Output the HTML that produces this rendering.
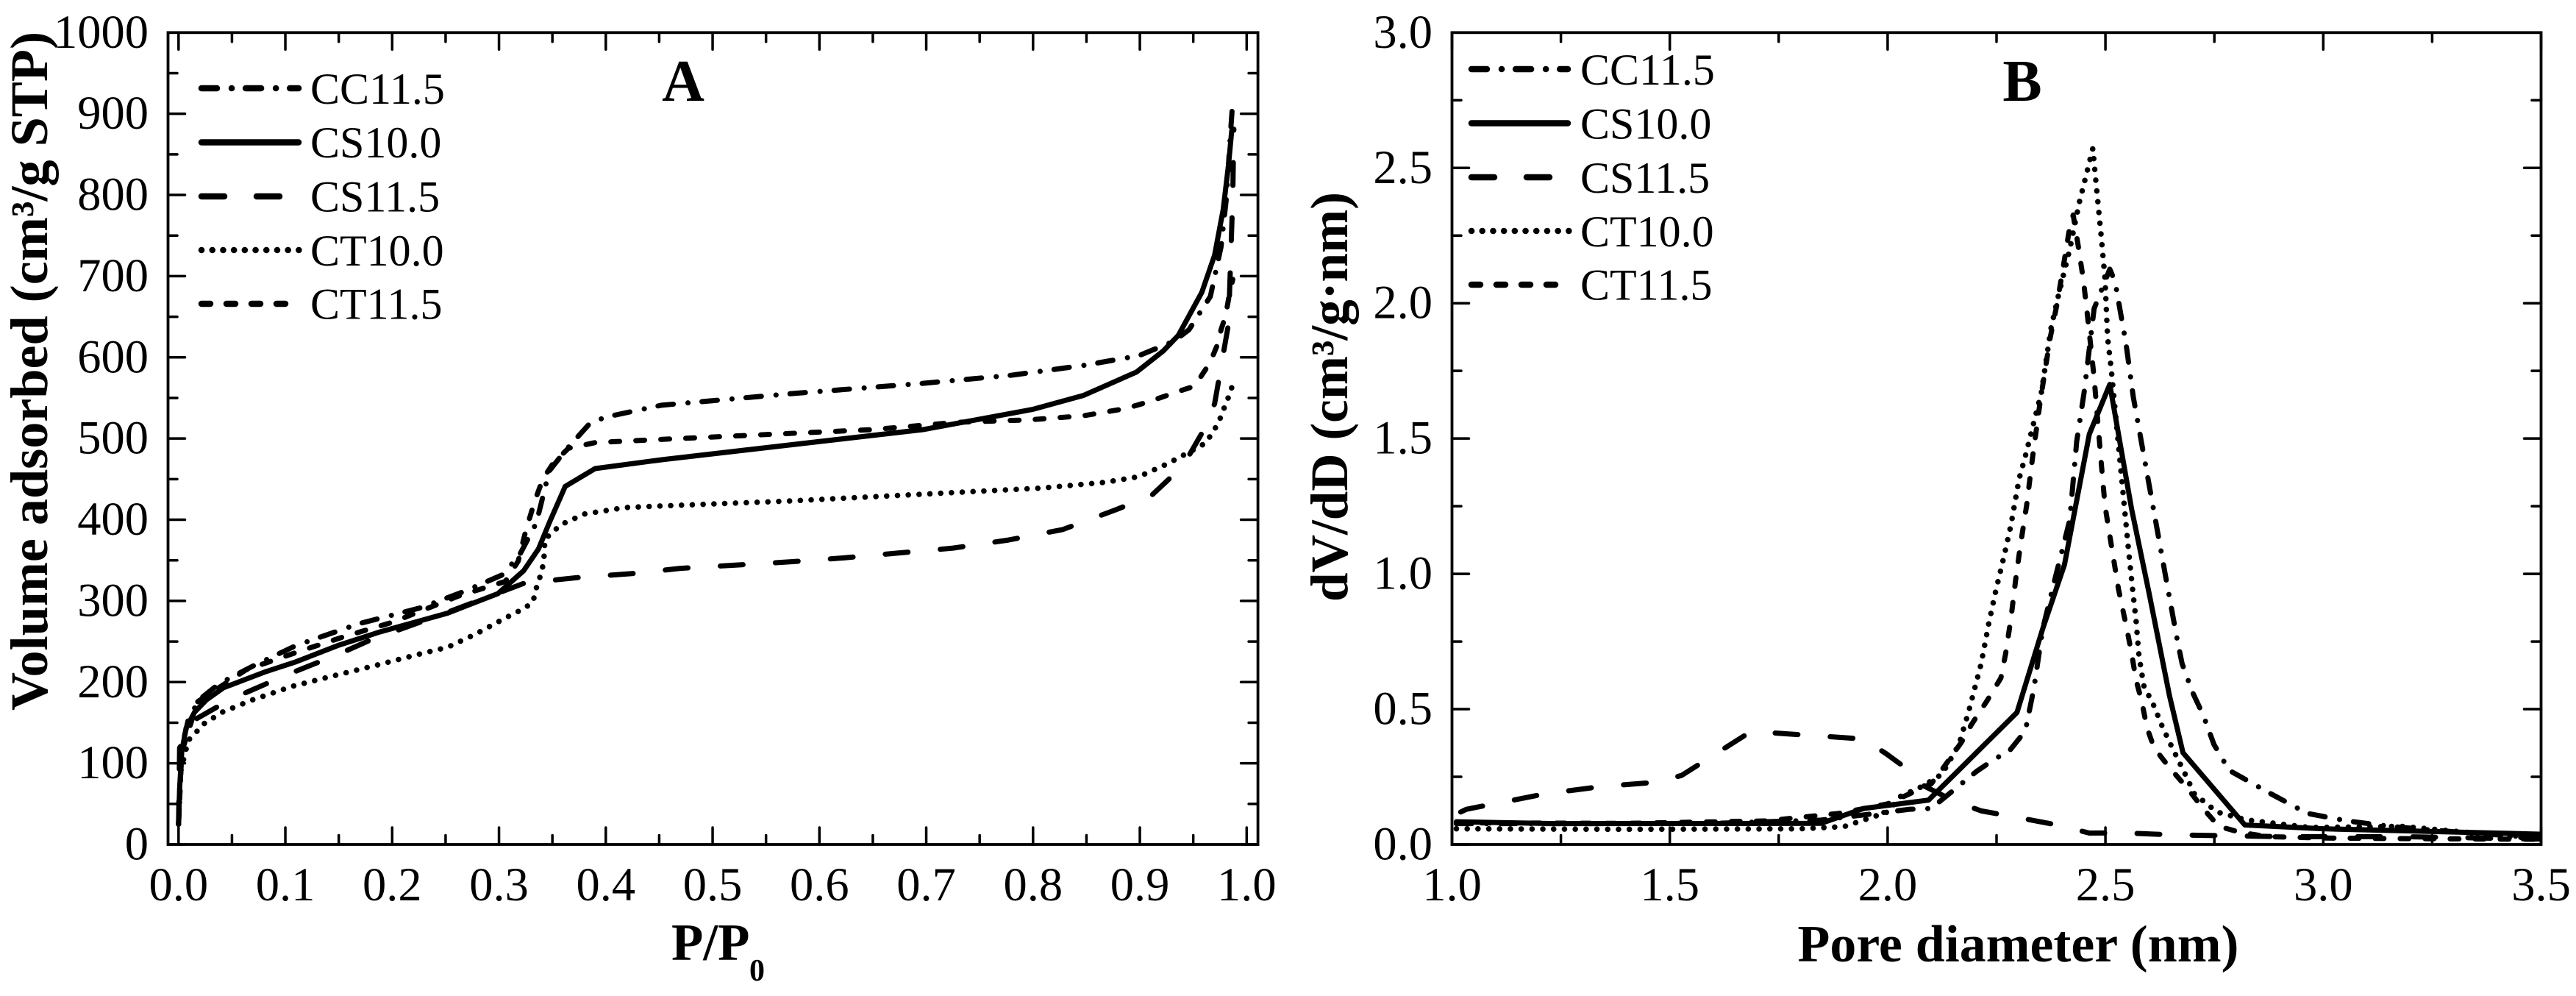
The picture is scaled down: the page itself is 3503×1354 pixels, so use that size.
<!DOCTYPE html>
<html lang="en">
<head>
<meta charset="utf-8">
<title>Nitrogen adsorption isotherms and pore size distributions</title>
<style>
  html, body { margin: 0; padding: 0; background: #fff; }
  body { width: 3503px; height: 1354px; overflow: hidden; }
  svg { display: block; }
  text { font-family: "Liberation Serif", serif; fill: #000; }
  .tick-label { font-size: 64.5px; }
  .legend-label { font-size: 60px; }
  .axis-title { font-size: 72px; font-weight: bold; }
  .panel-letter { font-size: 80px; font-weight: bold; }
  .frame { fill: none; stroke: #000; stroke-width: 3.8; }
  .tick { stroke: #000; stroke-width: 3.5; stroke-linecap: round; }
  .curve, .swatch { fill: none; stroke: #000; stroke-linecap: round; stroke-linejoin: round; }
  .curve { stroke-width: 7; }
  .swatch { stroke-width: 8.5; }
  .s-cc { stroke-dasharray: 21 20 0.1 19; }
  .s-cs10 { stroke-dasharray: none; }
  .s-cs11 { stroke-dasharray: 31 44; }
  .s-ct10 { stroke-dasharray: 0.1 14.6; }
  .s-ct11 { stroke-dasharray: 12 22; }
  .curve.s-ct10 { stroke-width: 7.5; }
</style>
</head>
<body>
<svg id="figure" xmlns="http://www.w3.org/2000/svg" width="3503" height="1354" viewBox="0 0 3503 1354">
  <rect x="0" y="0" width="3503" height="1354" fill="#fff"/>

  <g id="panelA">
    <g id="panelA-ticks"></g>
    <g id="panelA-curves"></g>
    <text class="panel-letter" x="929" y="137" text-anchor="middle">A</text>
    <text class="axis-title" transform="translate(64 966) rotate(-90)" textLength="923" lengthAdjust="spacingAndGlyphs">Volume adsorbed (cm³/g STP)</text>
    <text class="axis-title" x="913" y="1305" style="font-size:71px">P/P</text>
    <text class="axis-title" x="1019" y="1333" style="font-size:42px">0</text>
    <g>
      <line class="swatch s-cc" x1="274" y1="120" x2="406" y2="120"/>
      <text class="legend-label" x="422" y="141">CC11.5</text>
      <line class="swatch s-cs10" x1="274" y1="193.5" x2="406" y2="193.5"/>
      <text class="legend-label" x="422" y="214">CS10.0</text>
      <line class="swatch s-cs11" x1="274" y1="267" x2="406" y2="267"/>
      <text class="legend-label" x="422" y="287.5">CS11.5</text>
      <line class="swatch s-ct10" x1="274" y1="340" x2="408" y2="340"/>
      <text class="legend-label" x="422" y="361">CT10.0</text>
      <line class="swatch s-ct11" x1="274" y1="413" x2="392" y2="413"/>
      <text class="legend-label" x="422" y="433.5">CT11.5</text>
    </g>
  </g>

  <g id="panelB">
    <g id="panelB-ticks"></g>
    <g id="panelB-curves"></g>
    <text class="panel-letter" x="2750" y="137" text-anchor="middle">B</text>
    <text class="axis-title" transform="translate(1832 818) rotate(-90)" textLength="557" lengthAdjust="spacingAndGlyphs">dV/dD (cm³/g·nm)</text>
    <text class="axis-title" x="2444.5" y="1307" textLength="600" lengthAdjust="spacingAndGlyphs" style="font-size:71px">Pore diameter (nm)</text>
    <g>
      <line class="swatch s-cc" x1="2001" y1="94" x2="2132" y2="94"/>
      <text class="legend-label" x="2149" y="115">CC11.5</text>
      <line class="swatch s-cs10" x1="2001" y1="167.5" x2="2132" y2="167.5"/>
      <text class="legend-label" x="2149" y="188.5">CS10.0</text>
      <line class="swatch s-cs11" x1="2001" y1="241" x2="2132" y2="241"/>
      <text class="legend-label" x="2149" y="262">CS11.5</text>
      <line class="swatch s-ct10" x1="2001" y1="314" x2="2134" y2="314"/>
      <text class="legend-label" x="2149" y="335">CT10.0</text>
      <line class="swatch s-ct11" x1="2001" y1="387" x2="2118" y2="387"/>
      <text class="legend-label" x="2149" y="407.5">CT11.5</text>
    </g>
  </g>
</svg>

<script>
// ---------- Panel A tick labels ----------
const isoXTicks = ['0.0','0.1','0.2','0.3','0.4','0.5','0.6','0.7','0.8','0.9','1.0'];
const isoYTicks = ['0','100','200','300','400','500','600','700','800','900','1000'];

// ---------- Panel A isotherms: P/P0 and adsorbed volume ----------
const isoP_CC = [0,0.003,0.009,0.019,0.038,0.07,0.11,0.169,0.228,0.268,0.303,0.319,0.335,0.347,0.362,0.386,0.402,0.452,0.571,0.697,0.78,0.847,0.899,0.932,0.946,0.966,0.976,0.981,0.985,0.987];
const isoV_CC = [25,119,153,178,198,220,245,272,292,312,332,356,396,460,485,520,527,541,555,568,578,590,602,620,634,675,736,796,879,916];

const isoP_CS10 = [0,0.001,0.003,0.007,0.015,0.026,0.042,0.082,0.11,0.149,0.189,0.252,0.299,0.323,0.337,0.347,0.362,0.39,0.453,0.697,0.8,0.847,0.897,0.922,0.936,0.958,0.97,0.978,0.983,0.986];
const isoV_CS10 = [25,69,114,143,163,178,193,213,225,245,262,285,309,337,364,396,441,463,474,511,536,553,582,608,627,680,726,782,837,879];

const isoP_CS11 = [0,0.001,0.017,0.037,0.063,0.084,0.109,0.132,0.156,0.18,0.25,0.3,0.324,0.376,0.428,0.469,0.52,0.571,0.623,0.674,0.725,0.777,0.828,0.877,0.911,0.928,0.946,0.96,0.97,0.974,0.979,0.983,0.985,0.987,0.988];
const isoV_CS11 = [25,119,155,170,187,199,213,225,238,252,285,310,322,329,334,340,344,348,353,359,365,375,388,412,430,451,479,511,543,573,611,641,720,800,881];

const isoP_CT10 = [0,0.002,0.009,0.017,0.023,0.041,0.069,0.107,0.146,0.186,0.224,0.252,0.278,0.306,0.324,0.332,0.334,0.337,0.34,0.342,0.343,0.358,0.38,0.418,0.453,0.571,0.69,0.808,0.867,0.899,0.926,0.95,0.961,0.967,0.972,0.977,0.98,0.984,0.987];
const isoV_CT10 = [25,90,128,139,148,163,178,195,208,221,234,243,259,279,291,299,312,324,336,350,376,394,407,415,417,423,431,439,446,453,469,486,494,505,516,530,542,554,567];

const isoP_CT11 = [0,0.003,0.018,0.063,0.109,0.155,0.201,0.262,0.306,0.318,0.325,0.333,0.341,0.351,0.365,0.39,0.453,0.65,0.729,0.796,0.847,0.887,0.91,0.936,0.95,0.957,0.964,0.969,0.974,0.976,0.98,0.982,0.984,0.987];
const isoV_CT11 = [25,114,176,215,236,256,274,306,324,349,386,421,450,470,488,495,499,511,520,523,528,537,546,558,564,576,590,604,620,634,650,664,679,696];

// ---------- Panel B tick labels ----------
const psdXTicks = ['1.0','1.5','2.0','2.5','3.0','3.5'];
const psdYTicks = ['0.0','0.5','1.0','1.5','2.0','2.5','3.0'];

// ---------- Panel B distributions: pore diameter and dV/dD ----------
const psdD_CC = [1.01,1.236,1.6,1.847,2.0,2.05,2.1,2.204,2.237,2.282,2.316,2.336,2.356,2.384,2.418,2.434,2.451,2.474,2.51,2.522,2.547,2.564,2.644,2.665,2.676,2.7,2.725,2.749,2.784,2.837,2.879,2.963,3.055,3.153,3.25,3.497];
const psdV_CC = [0.077,0.077,0.078,0.09,0.12,0.13,0.133,0.27,0.306,0.351,0.419,0.579,0.797,0.98,1.198,1.489,1.67,1.98,2.126,2.08,1.853,1.653,0.938,0.755,0.668,0.562,0.476,0.37,0.274,0.226,0.188,0.115,0.087,0.067,0.053,0.024];

const psdD_CS10 = [1.01,1.236,1.847,1.945,2.094,2.297,2.356,2.406,2.463,2.51,2.56,2.6,2.647,2.678,2.82,2.999,3.25,3.497];
const psdV_CS10 = [0.084,0.077,0.078,0.133,0.164,0.488,0.797,1.034,1.516,1.7,1.24,0.93,0.55,0.339,0.072,0.058,0.048,0.038];

const psdD_CS11 = [1.02,1.033,1.217,1.343,1.469,1.527,1.687,1.813,1.944,1.997,2.047,2.085,2.153,2.215,2.277,2.4,2.463,2.54,2.647,2.78,2.9,3.18,3.497];
const psdV_CS11 = [0.12,0.13,0.188,0.214,0.23,0.255,0.418,0.404,0.39,0.335,0.276,0.215,0.16,0.124,0.106,0.069,0.042,0.043,0.036,0.032,0.029,0.029,0.02];

const psdD_CT10 = [1.01,1.4,1.8,1.9,2.0,2.03,2.08,2.125,2.164,2.187,2.215,2.232,2.249,2.268,2.283,2.302,2.316,2.336,2.353,2.375,2.389,2.418,2.44,2.471,2.479,2.491,2.499,2.505,2.513,2.527,2.541,2.553,2.563,2.57,2.577,2.588,2.612,2.63,2.651,2.683,2.704,2.756,2.823,2.97,3.18,3.497];
const psdV_CT10 = [0.058,0.056,0.058,0.066,0.12,0.178,0.215,0.26,0.37,0.497,0.67,0.815,0.943,1.07,1.18,1.352,1.434,1.562,1.671,1.907,2.008,2.199,2.372,2.572,2.435,2.235,2.09,1.871,1.762,1.525,1.289,1.088,0.933,0.832,0.697,0.587,0.51,0.4375,0.365,0.26,0.1875,0.12,0.091,0.0625,0.067,0.02];

const psdD_CT11 = [1.01,1.4,1.72,1.889,2.0,2.1,2.13,2.17,2.192,2.229,2.26,2.271,2.283,2.294,2.305,2.319,2.333,2.35,2.373,2.389,2.406,2.418,2.426,2.437,2.449,2.457,2.474,2.491,2.499,2.508,2.519,2.53,2.549,2.56,2.57,2.584,2.595,2.612,2.647,2.686,2.721,2.76,2.809,2.872,2.992,3.146,3.497];
const psdV_CT11 = [0.08,0.078,0.087,0.115,0.15,0.224,0.288,0.379,0.442,0.533,0.615,0.706,0.834,0.979,1.107,1.252,1.434,1.634,1.871,1.998,2.162,2.28,2.326,2.217,2.09,1.98,1.725,1.398,1.252,1.161,1.052,0.943,0.798,0.707,0.61,0.524,0.433,0.356,0.284,0.212,0.139,0.067,0.045,0.029,0.024,0.022,0.019];

// ---------- Axis functions ----------
const frameA = { left: 228.5, right: 1710.6, top: 44.3, bottom: 1148 };
const frameB = { left: 1974.5, right: 3455.5, top: 44.3, bottom: 1148 };

function xA(v) { return 242.8 + (v - 0) * 1452.5; }
function yA(v) { return frameA.bottom - (v / 1000) * (frameA.bottom - frameA.top); }
function xB(v) { return frameB.left + ((v - 1) / 2.5) * (frameB.right - frameB.left); }
function yB(v) { return frameB.bottom - (v / 3) * (frameB.bottom - frameB.top); }

const SVG_NS = 'http://www.w3.org/2000/svg';

function pathFrom(xs, ys, xFn, yFn) {
  let d = '';
  for (let i = 0; i < xs.length; i++) {
    d += (i ? 'L' : 'M') + xFn(xs[i]).toFixed(2) + ' ' + yFn(ys[i]).toFixed(2);
  }
  return d;
}

function drawCurve(parent, name, cls, xs, ys, xFn, yFn) {
  const el = document.createElementNS(SVG_NS, 'path');
  el.setAttribute('d', pathFrom(xs, ys, xFn, yFn));
  el.setAttribute('class', 'curve ' + cls);
  
  
  parent.appendChild(el);
}

function drawTick(parent, x1, y1, x2, y2) {
  const el = document.createElementNS(SVG_NS, 'line');
  el.setAttribute('x1', x1.toFixed(2));
  el.setAttribute('y1', y1.toFixed(2));
  el.setAttribute('x2', x2.toFixed(2));
  el.setAttribute('y2', y2.toFixed(2));
  el.setAttribute('class', 'tick');
  
  
  parent.appendChild(el);
}

function drawLabel(parent, x, y, anchor, str) {
  const el = document.createElementNS(SVG_NS, 'text');
  el.setAttribute('x', x.toFixed(2));
  el.setAttribute('y', y.toFixed(2));
  el.setAttribute('text-anchor', anchor);
  el.setAttribute('class', 'tick-label');
  
  
  el.textContent = str;
  parent.appendChild(el);
}

function drawAxes(parent, frame, xFn, yFn, xLabels, yLabels) {
  const rect = document.createElementNS(SVG_NS, 'rect');
  rect.setAttribute('x', frame.left);
  rect.setAttribute('y', frame.top);
  rect.setAttribute('width', frame.right - frame.left);
  rect.setAttribute('height', frame.bottom - frame.top);
  rect.setAttribute('class', 'frame');
  
  
  parent.appendChild(rect);

  const majorLen = 23, minorLen = 12.5;
  const xVals = xLabels.map(parseFloat);
  const yVals = yLabels.map(parseFloat);

  xVals.forEach(function (v, i) {
    const px = xFn(v);
    drawTick(parent, px, frame.bottom, px, frame.bottom - majorLen);
    drawTick(parent, px, frame.top, px, frame.top + majorLen);
    drawLabel(parent, px, 1224, 'middle', xLabels[i]);
    if (i < xVals.length - 1) {
      const mid = xFn((v + xVals[i + 1]) / 2);
      drawTick(parent, mid, frame.bottom, mid, frame.bottom - minorLen);
      drawTick(parent, mid, frame.top, mid, frame.top + minorLen);
    }
  });

  const labelRight = frame.left - 26.5;
  yVals.forEach(function (v, i) {
    const py = yFn(v);
    drawTick(parent, frame.left, py, frame.left + majorLen, py);
    drawTick(parent, frame.right, py, frame.right - majorLen, py);
    drawLabel(parent, labelRight, py + 20.5, 'end', yLabels[i]);
    if (i < yVals.length - 1) {
      const mid = yFn((v + yVals[i + 1]) / 2);
      drawTick(parent, frame.left, mid, frame.left + minorLen, mid);
      drawTick(parent, frame.right, mid, frame.right - minorLen, mid);
    }
  });
}

// ---------- Build the two panels ----------
drawAxes(document.getElementById('panelA-ticks'), frameA, xA, yA, isoXTicks, isoYTicks);
drawAxes(document.getElementById('panelB-ticks'), frameB, xB, yB, psdXTicks, psdYTicks);

const curvesA = document.getElementById('panelA-curves');
drawCurve(curvesA, 'isotherm-cc115', 's-cc', isoP_CC, isoV_CC, xA, yA);
drawCurve(curvesA, 'isotherm-cs115', 's-cs11', isoP_CS11, isoV_CS11, xA, yA);
drawCurve(curvesA, 'isotherm-ct100', 's-ct10', isoP_CT10, isoV_CT10, xA, yA);
drawCurve(curvesA, 'isotherm-ct115', 's-ct11', isoP_CT11, isoV_CT11, xA, yA);
drawCurve(curvesA, 'isotherm-cs100', 's-cs10', isoP_CS10, isoV_CS10, xA, yA);

const curvesB = document.getElementById('panelB-curves');
drawCurve(curvesB, 'pore-distribution-cc115', 's-cc', psdD_CC, psdV_CC, xB, yB);
drawCurve(curvesB, 'pore-distribution-cs115', 's-cs11', psdD_CS11, psdV_CS11, xB, yB);
drawCurve(curvesB, 'pore-distribution-ct100', 's-ct10', psdD_CT10, psdV_CT10, xB, yB);
drawCurve(curvesB, 'pore-distribution-ct115', 's-ct11', psdD_CT11, psdV_CT11, xB, yB);
drawCurve(curvesB, 'pore-distribution-cs100', 's-cs10', psdD_CS10, psdV_CS10, xB, yB);
</script>
</body>
</html>
